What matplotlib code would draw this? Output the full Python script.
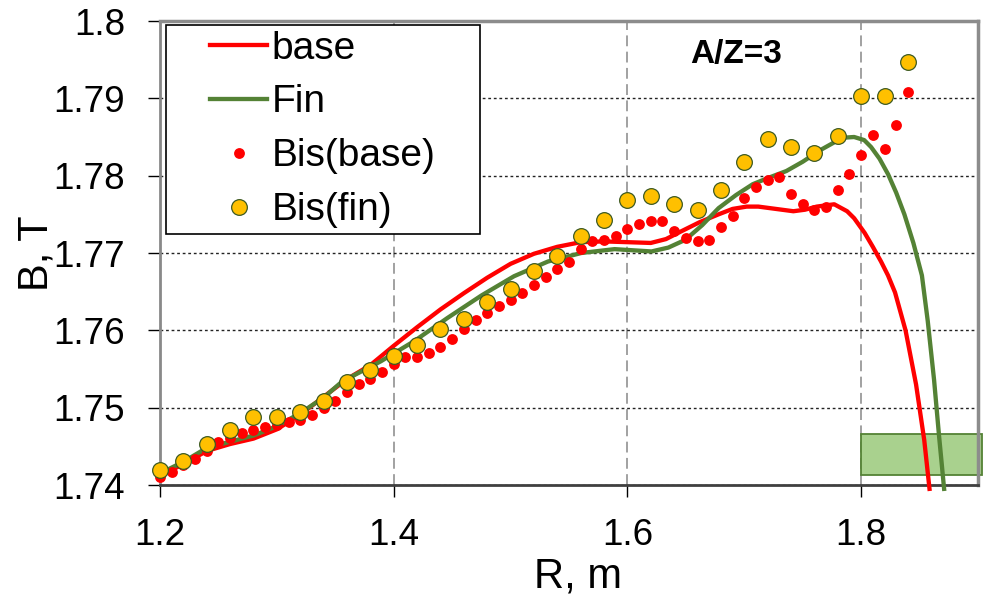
import matplotlib
matplotlib.use('Agg')
import matplotlib.pyplot as plt
from matplotlib.patches import Rectangle
import numpy as np

plt.rcParams['font.family'] = ['Liberation Sans', 'DejaVu Sans']

# base line
base_r = [1.200, 1.220, 1.240, 1.260, 1.280, 1.300, 1.320, 1.340, 1.360, 1.380,
          1.400, 1.420, 1.440, 1.460, 1.480, 1.500, 1.520, 1.540, 1.560, 1.580,
          1.600, 1.620, 1.633, 1.646, 1.662, 1.678, 1.690, 1.702, 1.712, 1.722, 1.732,
          1.742, 1.752, 1.762, 1.777, 1.788, 1.794, 1.803, 1.810, 1.817, 1.823, 1.829,
          1.838, 1.847, 1.854, 1.8585]
base_b = [1.7412, 1.7427, 1.7444, 1.7453, 1.7460, 1.7472, 1.7491, 1.7514, 1.7537, 1.7555,
          1.7580, 1.7604, 1.7627, 1.7648, 1.7668, 1.7686, 1.7699, 1.7708, 1.7714, 1.7715,
          1.7714, 1.7713, 1.7718, 1.7728, 1.7740, 1.7750, 1.7757, 1.7760, 1.7760, 1.7758, 1.7756,
          1.7754, 1.7756, 1.7760, 1.7763, 1.7754, 1.7745, 1.7726, 1.7708, 1.7689, 1.7671, 1.7649,
          1.7600, 1.7530, 1.7458, 1.7395]

# Fin line
fin_r = [1.200, 1.220, 1.240, 1.260, 1.280, 1.300, 1.320, 1.340, 1.356, 1.389,
         1.4175, 1.446, 1.475, 1.503, 1.532, 1.5605, 1.589, 1.6206, 1.635, 1.6495, 1.664, 1.678,
         1.693, 1.7073, 1.722, 1.736, 1.750, 1.765, 1.784, 1.794, 1.8026, 1.8085, 1.8157, 1.823,
         1.830, 1.837, 1.8447, 1.852, 1.857, 1.8624, 1.8667, 1.871]
fin_b = [1.7415, 1.7430, 1.7448, 1.7456, 1.7464, 1.7476, 1.7493, 1.7513, 1.7534, 1.7560,
         1.7586, 1.7616, 1.7645, 1.7670, 1.7689, 1.7700, 1.7705, 1.7702, 1.7707, 1.7717, 1.7736, 1.7758,
         1.7775, 1.7789, 1.7798, 1.7806, 1.7818, 1.7833, 1.7849, 1.7850, 1.7846, 1.7837, 1.7822, 1.7802,
         1.7778, 1.7750, 1.7713, 1.7671, 1.7612, 1.7536, 1.7463, 1.7395]

# Bis(base) points, R = 1.20 ... 1.84
bis_base_r = [1.20, 1.21, 1.22, 1.23, 1.24, 1.25, 1.26, 1.27, 1.28, 1.29,
              1.30, 1.31, 1.32, 1.33, 1.34, 1.35, 1.36, 1.37, 1.38, 1.39,
              1.40, 1.41, 1.42, 1.43, 1.44, 1.45, 1.46, 1.47, 1.48, 1.49,
              1.50, 1.51, 1.52, 1.53, 1.54, 1.55, 1.56, 1.57, 1.58, 1.59,
              1.60, 1.61, 1.62, 1.63, 1.64, 1.65, 1.66, 1.67, 1.68, 1.69,
              1.70, 1.71, 1.72, 1.73, 1.74, 1.75, 1.76, 1.77, 1.78, 1.79,
              1.80, 1.81, 1.82, 1.83, 1.84]
bis_base_b = [1.7410, 1.7417, 1.7426, 1.7434, 1.7444, 1.7456, 1.7461, 1.7467, 1.7471, 1.7475,
              1.7478, 1.7481, 1.7484, 1.7490, 1.7499, 1.7509, 1.7520, 1.7530, 1.7537, 1.7546,
              1.7557, 1.7565, 1.7566, 1.7571, 1.7579, 1.7589, 1.7602, 1.7613, 1.7622, 1.7631,
              1.7639, 1.7648, 1.7658, 1.7669, 1.7679, 1.7689, 1.7705, 1.7716, 1.7717, 1.7722,
              1.7731, 1.7738, 1.7742, 1.7742, 1.7728, 1.7719, 1.7716, 1.7717, 1.7734, 1.7748,
              1.7771, 1.7785, 1.7795, 1.7798, 1.7776, 1.7764, 1.7756, 1.7759, 1.7781, 1.7802,
              1.7827, 1.7852, 1.7835, 1.7866, 1.7908]

# Bis(fin) points, R = 1.20 ... 1.84 step 0.02
bis_fin_r = [1.20, 1.22, 1.24, 1.26, 1.28, 1.30, 1.32, 1.34, 1.36, 1.38,
             1.40, 1.42, 1.44, 1.46, 1.48, 1.50, 1.52, 1.54, 1.56, 1.58,
             1.60, 1.62, 1.64, 1.66, 1.68, 1.70, 1.72, 1.74, 1.76, 1.78,
             1.80, 1.82, 1.84]
bis_fin_b = [1.7419, 1.7431, 1.7453, 1.7471, 1.7488, 1.7488, 1.7495, 1.7509, 1.7533, 1.7549,
             1.7567, 1.7581, 1.7602, 1.7615, 1.7636, 1.7653, 1.7677, 1.7696, 1.7722, 1.7743,
             1.7769, 1.7774, 1.7763, 1.7755, 1.7782, 1.7818, 1.7848, 1.7837, 1.7829, 1.7851,
             1.7903, 1.7903, 1.7947]

xticks = [1.2, 1.4, 1.6, 1.8]
yticks = [1.74, 1.75, 1.76, 1.77, 1.78, 1.79, 1.80]
ytick_labels = ['1.74', '1.75', '1.76', '1.77', '1.78', '1.79', '1.8']

fig = plt.figure(figsize=(9.84, 5.98), dpi=100)
ax = fig.add_axes([160/984, 113/598, 818/984, 464/598])

ax.set_xlim(1.2, 1.9)
ax.set_ylim(1.74, 1.80)

# green box in the corner
ax.add_patch(Rectangle((1.8, 1.7413), 0.1035, 0.0053, facecolor='#a9d18e',
                       edgecolor='#548235', lw=1.3, zorder=2, clip_on=False))

ax.plot(base_r, base_b, color='#ff0000', lw=3.1, label='base', zorder=3, clip_on=False,
        solid_joinstyle='round')
ax.plot(fin_r, fin_b, color='#548235', lw=3.1, label='Fin', zorder=3, clip_on=False,
        solid_joinstyle='round')
ax.plot(bis_base_r, bis_base_b, 'o', ls='none', color='#ff0000', ms=7.8, mew=0,
        label='Bis(base)', zorder=4, clip_on=False)
ax.plot(bis_fin_r, bis_fin_b, 'o', ls='none', mfc='#ffc000', mec='#3d5a22', ms=11.3, mew=0.9,
        label='Bis(fin)', zorder=4, clip_on=False)

ax.set_xticks(xticks)
ax.set_xticklabels(['1.2', '1.4', '1.6', '1.8'])
ax.set_yticks(yticks)
ax.set_yticklabels(ytick_labels)
ax.tick_params(axis='both', direction='out', length=8.6, width=1, colors='black', labelsize=26.5)
ax.tick_params(axis='y', pad=16.5)
ax.tick_params(axis='x', pad=15)

ax.set_axisbelow(True)
ax.yaxis.grid(True, color='#222222', lw=1.0, ls=(0, (2, 2)))
ax.xaxis.grid(True, color='#9a9a9a', lw=1.3, ls=(0, (6, 3)))

ax.spines['left'].set_color('#898989')
ax.spines['left'].set_linewidth(2)
ax.spines['bottom'].set_color('#404040')
ax.spines['bottom'].set_linewidth(2)
for s in ['top', 'right']:
    ax.spines[s].set_color('#8c8c8c')
    ax.spines[s].set_linewidth(2.5)

ax.set_xlabel('R, m', fontsize=30)
ax.xaxis.set_label_coords(0.511, -0.155)
ax.set_ylabel('B, T', fontsize=30)
ax.yaxis.set_label_coords(-0.127, 0.5)

ax.text(1.693, 1.7957, 'A/Z=3', fontsize=24, fontweight='bold', ha='center', va='center')

# legend frame drawn separately (wide box like the original)
ax.add_patch(Rectangle((6/818, (485-234)/463.5), 314/818, 209/463.5, transform=ax.transAxes,
                       facecolor='white', edgecolor='black', lw=1.2, zorder=5))
leg = ax.legend(loc='upper left', bbox_to_anchor=(50/818, (485-31)/463.5), frameon=False,
                fontsize=28, borderpad=0, borderaxespad=0, handlelength=1.47,
                handletextpad=0.12, labelspacing=0.46, numpoints=1)
leg.set_zorder(6)

fig.savefig('out.png', dpi=100)
